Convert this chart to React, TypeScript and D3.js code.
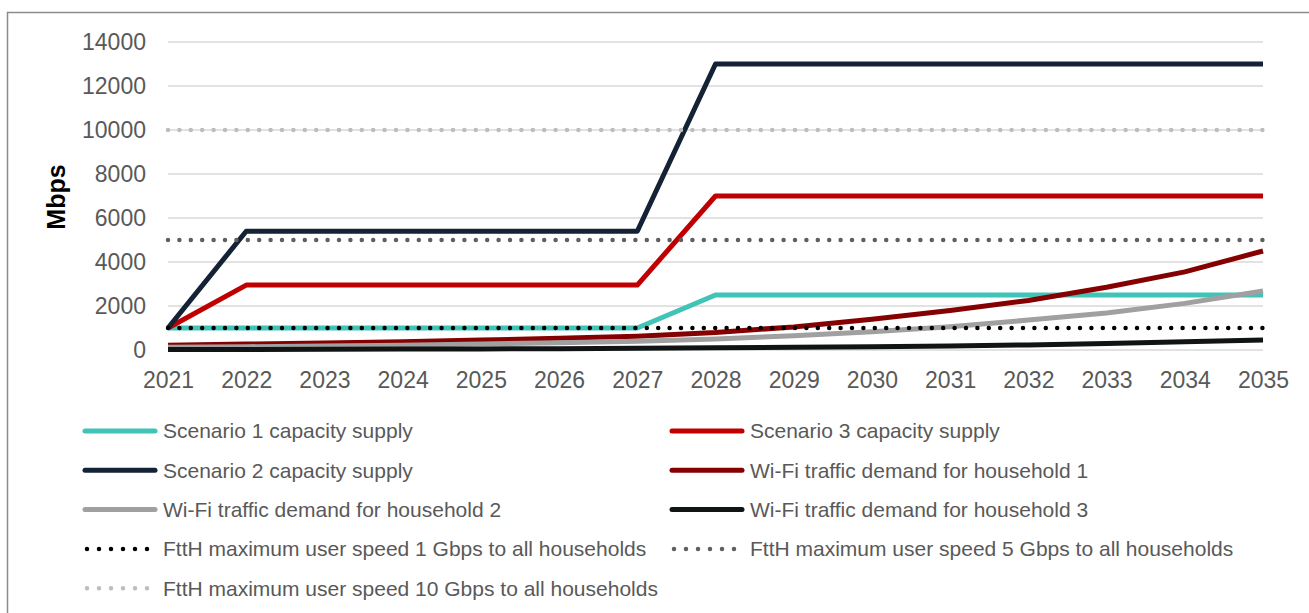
import React, { useRef, useEffect } from 'react';
import * as d3 from 'd3';

const years = [2021, 2022, 2023, 2024, 2025, 2026, 2027, 2028, 2029, 2030, 2031, 2032, 2033, 2034, 2035];
const scenario1 = [1000, 1000, 1000, 1000, 1000, 1000, 1000, 2500, 2500, 2500, 2500, 2500, 2500, 2500, 2500];
const scenario3 = [1000, 2950, 2950, 2950, 2950, 2950, 2950, 7000, 7000, 7000, 7000, 7000, 7000, 7000, 7000];
const scenario2 = [1000, 5400, 5400, 5400, 5400, 5400, 5400, 13000, 13000, 13000, 13000, 13000, 13000, 13000, 13000];
const household1 = [220, 270, 320, 380, 450, 530, 630, 800, 1050, 1400, 1800, 2250, 2850, 3550, 4500];
const household2 = [120, 150, 180, 220, 270, 330, 400, 500, 650, 830, 1060, 1360, 1680, 2120, 2680];
const household3 = [20, 25, 30, 40, 50, 60, 80, 100, 120, 150, 180, 230, 300, 370, 450];
const ftth1 = years.map(() => 1000);
const ftth5 = years.map(() => 5000);
const ftth10 = years.map(() => 10000);
const yTicks = [0, 2000, 4000, 6000, 8000, 10000, 12000, 14000];

const series = [
  { name: 'Scenario 1 capacity supply', values: scenario1, color: '#40C4B8', dotted: false },
  { name: 'Scenario 3 capacity supply', values: scenario3, color: '#C00000', dotted: false },
  { name: 'Scenario 2 capacity supply', values: scenario2, color: '#142236', dotted: false },
  { name: 'Wi-Fi traffic demand for household 1', values: household1, color: '#850000', dotted: false },
  { name: 'Wi-Fi traffic demand for household 2', values: household2, color: '#A0A0A0', dotted: false },
  { name: 'Wi-Fi traffic demand for household 3', values: household3, color: '#111414', dotted: false },
  { name: 'FttH maximum user speed 1 Gbps to all households', values: ftth1, color: '#000000', dotted: true },
  { name: 'FttH maximum user speed 5 Gbps to all households', values: ftth5, color: '#5F5F5F', dotted: true },
  { name: 'FttH maximum user speed 10 Gbps to all households', values: ftth10, color: '#BDBDBD', dotted: true },
];

const App = () => {
  const ref = useRef<SVGSVGElement>(null);

  useEffect(() => {
    const svg = d3.select(ref.current);
    svg.selectAll('*').remove();

    const font = 'Liberation Sans, Arial, sans-serif';
    const left = 168;
    const right = 1263;
    const top = 42;
    const bottom = 350;

    svg.append('path')
      .attr('d', 'M7.5,700 L7.5,12.5 L1320,12.5')
      .attr('fill', 'none')
      .attr('stroke', '#8C8C8C')
      .attr('stroke-width', 1.5);

    const x = d3.scaleLinear().domain([2021, 2035]).range([left, right]);
    const y = d3.scaleLinear().domain([0, 14000]).range([bottom, top]);

    // grid
    svg.append('g')
      .selectAll('line')
      .data(yTicks)
      .enter()
      .append('line')
      .attr('x1', left)
      .attr('x2', right)
      .attr('y1', (d) => y(d))
      .attr('y2', (d) => y(d))
      .attr('stroke', '#D9D9D9')
      .attr('stroke-width', 1.3);

    const yAxis = d3.axisLeft(y).tickValues(yTicks).tickSize(0).tickPadding(22).tickFormat(d3.format('d'));
    const gy = svg.append('g').attr('transform', `translate(${left},0)`).call(yAxis);
    gy.select('.domain').remove();
    gy.selectAll('text').attr('font-size', '23px').attr('font-family', font).attr('fill', '#595959');

    const xAxis = d3.axisBottom(x).tickValues(years).tickSize(0).tickPadding(22).tickFormat(d3.format('d'));
    const gx = svg.append('g').attr('transform', `translate(0,${bottom})`).call(xAxis);
    gx.select('.domain').remove();
    gx.selectAll('text').attr('font-size', '23px').attr('font-family', font).attr('fill', '#595959');

    svg.append('text')
      .attr('transform', 'translate(65,197) rotate(-90)')
      .attr('text-anchor', 'middle')
      .attr('font-family', font)
      .attr('font-weight', 'bold')
      .attr('font-size', '25px')
      .attr('fill', '#000')
      .text('Mbps');

    const line = d3.line<number>()
      .x((_, i) => x(years[i]))
      .y((d) => y(d));

    series.forEach((s) => {
      const p = svg.append('path')
        .attr('d', line(s.values))
        .attr('fill', 'none')
        .attr('stroke', s.color)
        .attr('stroke-width', s.dotted ? 4.5 : 5)
        .attr('stroke-linejoin', 'round');
      if (s.dotted) {
        p.attr('stroke-dasharray', '0 11.4').attr('stroke-linecap', 'round');
      }
    });

    // legend
    const legend = svg.append('g');
    series.forEach((s, i) => {
      const col = i % 2;
      const row = Math.floor(i / 2);
      const lx = col === 0 ? 85 : 672;
      const ly = 431 + row * 39.3;
      const g = legend.append('g');
      if (s.dotted) {
        g.append('line')
          .attr('x1', lx + 2).attr('x2', lx + 63)
          .attr('y1', ly).attr('y2', ly)
          .attr('stroke', s.color)
          .attr('stroke-width', 4.5)
          .attr('stroke-linecap', 'round')
          .attr('stroke-dasharray', '0 12');
      } else {
        g.append('line')
          .attr('x1', lx).attr('x2', lx + 70)
          .attr('y1', ly).attr('y2', ly)
          .attr('stroke', s.color)
          .attr('stroke-width', 5)
          .attr('stroke-linecap', 'round');
      }
      g.append('text')
        .attr('x', lx + 78)
        .attr('y', ly)
        .attr('dy', '0.35em')
        .attr('font-family', font)
        .attr('font-size', '21px')
        .attr('fill', '#595959')
        .text(s.name);
    });
  }, []);

  return (
    <svg
      ref={ref}
      width={1309}
      height={613}
      style={{ position: 'absolute', left: 0, top: 0, background: '#fff' }}
    ></svg>
  );
};

export default App;
